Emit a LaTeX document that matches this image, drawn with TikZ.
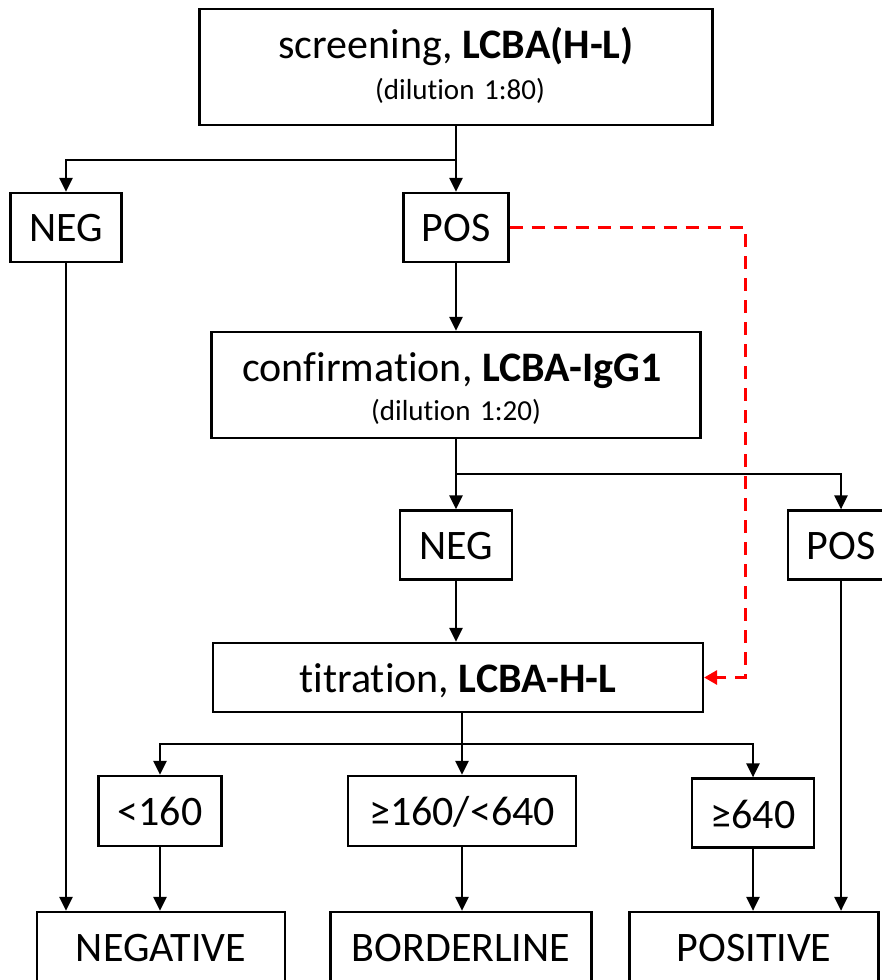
\documentclass[tikz,border=0pt]{standalone}
\usepackage{fontspec}
\setmainfont{Carlito}[Ligatures={NoCommon,NoContextual}]
\usetikzlibrary{arrows.meta}
\begin{document}
\begin{tikzpicture}[x=1pt,y=-1pt,
  box/.style={draw, line width=2.2pt, rectangle, inner sep=0pt},
  big/.style={font=\fontsize{42}{50}\selectfont, inner sep=0pt, anchor=base},
  small/.style={font=\fontsize{29}{34}\selectfont, inner sep=0pt, anchor=base},
  arr/.style={line width=2.6pt, -{Triangle[length=14pt,width=13pt]}},
  ln/.style={line width=2.6pt},
  reddash/.style={draw=red, line width=3pt, dash pattern=on 13pt off 9pt, -{Triangle[length=13pt,width=14pt]}}]
\useasboundingbox (0,0) rectangle (882,980);
\fill[white] (0,0) rectangle (882,980);
% boxes
\node[box, minimum width=513pt, minimum height=116pt] (top) at (456,67) {};
\node[box, minimum width=111pt, minimum height=69pt] (neg1) at (66,227.5) {};
\node[box, minimum width=105pt, minimum height=69pt] (pos1) at (456,227.5) {};
\node[box, minimum width=489pt, minimum height=106pt] (conf) at (456,385) {};
\node[box, minimum width=112pt, minimum height=69pt] (neg2) at (456,545) {};
\node[box, minimum width=106pt, minimum height=69pt] (pos2) at (841,545) {};
\node[box, minimum width=490pt, minimum height=69pt] (tit) at (458,677.5) {};
\node[box, minimum width=123pt, minimum height=70pt] (lt) at (160,811) {};
\node[box, minimum width=228pt, minimum height=70pt] (mid) at (462,811) {};
\node[box, minimum width=122pt, minimum height=69pt] (ge) at (753,813) {};
\node[box, minimum width=248pt, minimum height=100pt] (negative) at (161,962) {};
\node[box, minimum width=261pt, minimum height=100pt] (border) at (461,962) {};
\node[box, minimum width=249pt, minimum height=100pt] (positive) at (754,962) {};
% texts
\node[big] (t1) at (456,58) {screening, \textbf{LCBA(H-L)}};
\node[small] (t2) at (460,99) {(dilution\,\,1:80)};
\node[big] (t3) at (66,241) {NEG};
\node[big] (t4) at (456,241) {POS};
\node[big] (t5) at (452,381) {confirmation, \textbf{LCBA-IgG1}};
\node[small] (t6) at (456,420) {(dilution\,\,1:20)};
\node[big] (t7) at (456,559) {NEG};
\node[big] (t8) at (841,559) {POS};
\node[big] (t9) at (458,692) {titration, \textbf{LCBA-H-L}};
\node[big] (t10) at (160,825) {<160};
\node[big] (t11) at (462,825) {≥160/<640};
\node[big] (t12) at (753,828) {≥640};
\node[big] (t13) at (161,961) {NEGATIVE};
\node[big] (t14) at (461,961) {BORDERLINE};
\node[big] (t15) at (754,961) {POSITIVE};
% connectors
\coordinate (j1) at (456,160);
\draw[ln] (top.south) -- (j1);
\draw[arr] (j1) -- (pos1.north);
\draw[arr] (j1) -| (neg1.north);
\draw[arr] (neg1.south) -- (neg1.south |- negative.north);
\draw[arr] (pos1.south) -- (conf.north);
\coordinate (j2) at (456,474);
\draw[ln] (conf.south) -- (j2);
\draw[arr] (j2) -- (neg2.north);
\draw[arr] (j2) -| (pos2.north);
\draw[arr] (neg2.south) -- (neg2.south |- tit.north);
\draw[arr] (pos2.south) -- (pos2.south |- positive.north);
\coordinate (rc) at (745,450);
\draw[reddash] (pos1.east) -- (pos1.east -| rc) -- (rc |- tit.east) -- (tit.east);
\coordinate (j3) at (462,744);
\draw[ln] (tit.south -| mid.north) -- (j3);
\draw[arr] (j3) -- (mid.north);
\draw[arr] (j3) -| (lt.north);
\draw[arr] (j3) -| (ge.north);
\draw[arr] (lt.south) -- (lt.south |- negative.north);
\draw[arr] (mid.south) -- (mid.south |- border.north);
\draw[arr] (ge.south) -- (ge.south |- positive.north);
\end{tikzpicture}
\end{document}
